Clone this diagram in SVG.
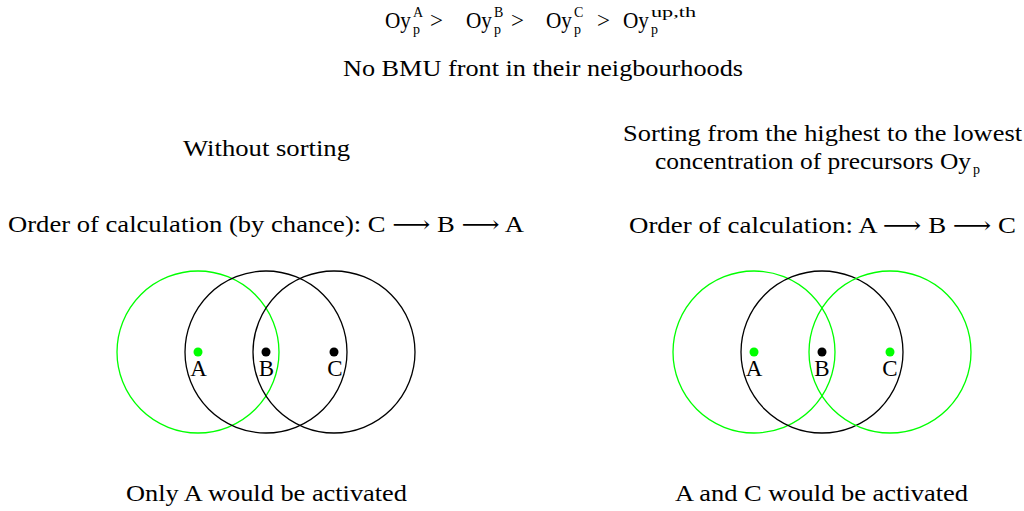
<svg xmlns="http://www.w3.org/2000/svg" width="1024" height="511" viewBox="0 0 1024 511">
<style>
text{font-family:"Liberation Serif","DejaVu Serif",serif;font-size:23px;fill:#000}
.s{font-size:14px}
.m{text-anchor:middle}
.g{fill:none;stroke:#00ff00;stroke-width:1.3}
.k{fill:none;stroke:#000;stroke-width:1.3}
.dg{fill:#00ff00}
.dk{fill:#000}
</style>
<rect width="1024" height="511" fill="#fff"/>
<g id="header">
<text x="385" y="28" textLength="26" lengthAdjust="spacingAndGlyphs">Oy</text><text class="s" x="413" y="17">A</text><text class="s" x="413" y="34">p</text>
<text x="430" y="28">&gt;</text>
<text x="466" y="28" textLength="26" lengthAdjust="spacingAndGlyphs">Oy</text><text class="s" x="494" y="17">B</text><text class="s" x="494" y="34">p</text>
<text x="511" y="28">&gt;</text>
<text x="546" y="28" textLength="26" lengthAdjust="spacingAndGlyphs">Oy</text><text class="s" x="574" y="17">C</text><text class="s" x="574" y="34">p</text>
<text x="597" y="28">&gt;</text>
<text x="623" y="28" textLength="26" lengthAdjust="spacingAndGlyphs">Oy</text><text class="s" x="651" y="17" textLength="45" lengthAdjust="spacingAndGlyphs">up,th</text><text class="s" x="651" y="34">p</text>
<text x="343" y="76" textLength="400" lengthAdjust="spacingAndGlyphs">No BMU front in their neigbourhoods</text>
</g>
<g id="left-titles">
<text x="183" y="156" textLength="167" lengthAdjust="spacingAndGlyphs">Without sorting</text>
<text x="8" y="232" textLength="516" lengthAdjust="spacingAndGlyphs">Order of calculation (by chance): C ⟶ B ⟶ A</text>
</g>
<g id="right-titles">
<text x="623" y="141" textLength="399" lengthAdjust="spacingAndGlyphs">Sorting from the highest to the lowest</text>
<text x="655" y="169" textLength="316" lengthAdjust="spacingAndGlyphs">concentration of precursors Oy</text><text class="s" x="973" y="174">p</text>
<text x="629" y="233" textLength="387" lengthAdjust="spacingAndGlyphs">Order of calculation: A ⟶ B ⟶ C</text>
</g>
<g id="left-A"><circle class="g" cx="198" cy="352" r="81"/><circle class="dg" cx="198" cy="352" r="4.5"/><text class="m" x="198.5" y="376">A</text></g>
<g id="left-B"><circle class="k" cx="266" cy="352" r="81"/><circle class="dk" cx="266" cy="352" r="4.5"/><text class="m" x="266.5" y="376">B</text></g>
<g id="left-C"><circle class="k" cx="334" cy="352" r="81"/><circle class="dk" cx="334" cy="352" r="4.5"/><text class="m" x="335" y="376">C</text></g>
<g id="right-A"><circle class="g" cx="754" cy="352" r="81"/><circle class="dg" cx="754" cy="352" r="4.5"/><text class="m" x="754" y="376">A</text></g>
<g id="right-B"><circle class="k" cx="822" cy="352" r="81"/><circle class="dk" cx="822" cy="352" r="4.5"/><text class="m" x="822" y="376">B</text></g>
<g id="right-C"><circle class="g" cx="890" cy="352" r="81"/><circle class="dg" cx="890" cy="352" r="4.5"/><text class="m" x="890" y="376">C</text></g>
<g id="connectors"></g>
<g id="captions">
<text x="126" y="501" textLength="281" lengthAdjust="spacingAndGlyphs">Only A would be activated</text>
<text x="675" y="501" textLength="293" lengthAdjust="spacingAndGlyphs">A and C would be activated</text>
</g>
</svg>
